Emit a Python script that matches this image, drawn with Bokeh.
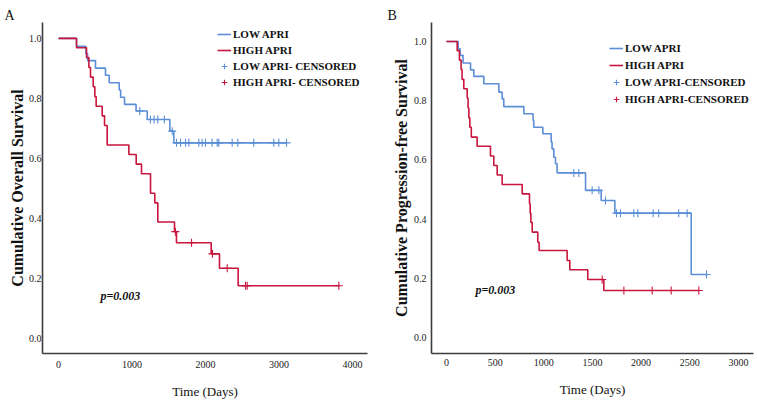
import numpy as np
from bokeh.plotting import figure
from bokeh.layouts import row
from bokeh.models import (Legend, LegendItem, Label, FixedTicker,
                          PrintfTickFormatter, Range1d)
from bokeh.embed import file_html
from bokeh.resources import INLINE

BLUE = "#5b8ed6"
RED = "#c8163c"
FONT = "Liberation Serif"

# ---------------- Panel A: overall survival ----------------
low_A_t = [245, 372, 395, 503, 639, 690, 826, 845, 898, 1055, 1207, 1515, 1569]
low_A_s = [0.974, 0.950, 0.926, 0.901, 0.877, 0.852, 0.828, 0.804, 0.780, 0.758, 0.730, 0.691, 0.652]
low_A_c = [1106, 1250, 1300, 1350, 1440, 1547, 1605, 1660, 1728, 1773, 1909, 1954, 1999,
           2090, 2159, 2180, 2363, 2439, 2657, 2929, 2997, 3102]

high_A_t = [245, 381, 413, 435, 472, 494, 512, 594, 626, 662, 957, 1057, 1129, 1252, 1310,
            1351, 1578, 1605, 2077, 2190, 2444]
high_A_s = [0.969, 0.936, 0.903, 0.871, 0.839, 0.806, 0.774, 0.742, 0.710, 0.645, 0.613, 0.581,
            0.549, 0.484, 0.452, 0.388, 0.356, 0.319, 0.282, 0.234, 0.176]
high_A_c = [1590, 1810, 2095, 2295, 2544, 2567, 3814]

# ---------------- Panel B: progression-free survival ----------------
low_B_t = [120, 140, 170, 247, 281, 384, 538, 572, 589, 795, 890, 897, 990, 1076, 1085, 1103,
           1120, 1137, 1429, 1590, 1730, 2515]
low_B_s = [0.975, 0.953, 0.927, 0.904, 0.882, 0.857, 0.829, 0.806, 0.780, 0.756, 0.733, 0.710,
           0.688, 0.660, 0.637, 0.609, 0.587, 0.556, 0.497, 0.463, 0.420, 0.213]
low_B_c = [1308, 1360, 1497, 1566, 1634, 1747, 1788, 1925, 1966, 2124, 2181, 2387, 2473, 2672]

high_B_t = [110, 133, 150, 160, 178, 213, 222, 230, 240, 255, 315, 452, 486, 521, 572, 778,
            853, 860, 867, 881, 938, 952, 1240, 1267, 1452, 1617]
high_B_s = [0.969, 0.937, 0.905, 0.872, 0.840, 0.808, 0.775, 0.742, 0.710, 0.677, 0.646, 0.613,
            0.581, 0.549, 0.517, 0.485, 0.452, 0.420, 0.389, 0.356, 0.322, 0.294, 0.260, 0.229,
            0.196, 0.159]
high_B_c = [1600, 1823, 2114, 2309, 2593]

xticks_A = [0, 1000, 2000, 3000, 4000]
xticks_B = [0, 500, 1000, 1500, 2000, 2500, 3000]
yticks = [0.0, 0.2, 0.4, 0.6, 0.8, 1.0]


def km_xy(times, surv, cens):
    last = max(max(times), max(cens))
    x = [0] + list(times) + [last]
    y = [1.0] + list(surv) + [surv[-1]]
    return x, y


def surv_at(times, surv, t):
    idx = np.searchsorted(np.asarray(times), np.asarray(t), side="right") - 1
    s = np.asarray(surv)
    return np.where(idx >= 0, s[np.clip(idx, 0, None)], 1.0)


def make_panel(width, xr, yr, xticks, borders, ylabel, groups, legend_loc, spacing,
               letter, letter_offset, ptext_xy, xstand, ystand, ylab_stand):
    p = figure(width=width, height=408, x_range=Range1d(*xr), y_range=Range1d(*yr),
               output_backend="svg", toolbar_location=None,
               min_border_left=borders[0], min_border_right=borders[1],
               min_border_top=borders[2], min_border_bottom=borders[3])
    p.grid.visible = False
    p.outline_line_color = None
    p.background_fill_color = "white"

    p.title.text = letter
    p.title.align = "left"
    p.title.offset = letter_offset
    p.title.standoff = 0
    p.title.text_font = FONT
    p.title.text_font_size = "14px"
    p.title.text_font_style = "normal"
    p.title.text_color = "#111111"

    p.xaxis.ticker = FixedTicker(ticks=xticks)
    p.yaxis.ticker = FixedTicker(ticks=yticks)
    p.yaxis.formatter = PrintfTickFormatter(format="%.1f")
    for ax in (p.xaxis, p.yaxis):
        ax.axis_line_color = "#3c3c3c"
        ax.axis_line_width = 1.6
        ax.major_tick_line_color = None
        ax.minor_tick_line_color = None
        ax.major_tick_out = 0
        ax.major_tick_in = 0
        ax.major_label_text_font = FONT
        ax.major_label_text_font_size = "10px"
        ax.major_label_text_color = "#222222"
        ax.axis_label_text_font = FONT
        ax.axis_label_text_color = "#111111"
    p.xaxis.axis_label = "Time (Days)"
    p.xaxis.axis_label_text_font_size = "13px"
    p.xaxis.axis_label_text_font_style = "normal"
    p.xaxis.axis_label_standoff = 13
    p.xaxis.major_label_standoff = xstand
    p.yaxis.axis_label = ylabel
    p.yaxis.axis_label_text_font_size = "16px"
    p.yaxis.axis_label_text_font_style = "bold"
    p.yaxis.axis_label_standoff = ylab_stand
    p.yaxis.major_label_standoff = ystand

    items_lines = []
    items_cens = []
    for name, cname, t, s, c, col in groups:
        x, y = km_xy(t, s, c)
        r = p.step(x, y, mode="after", line_color=col, line_width=1.6)
        items_lines.append(LegendItem(label=name, renderers=[r]))
    for name, cname, t, s, c, col in groups:
        cy = surv_at(t, s, c)
        rc = p.scatter(c, cy, marker="cross", size=8, line_color=col, line_width=1.1)
        items_cens.append(LegendItem(label=cname, renderers=[rc]))

    legend = Legend(items=items_lines + items_cens, location=legend_loc,
                    label_text_font=FONT, label_text_font_style="bold",
                    label_text_font_size="11px", label_text_color="#111111",
                    label_height=14, glyph_height=14, glyph_width=14, spacing=spacing,
                    padding=0, margin=0, label_standoff=2,
                    border_line_color=None, background_fill_alpha=0)
    p.add_layout(legend)

    p.add_layout(Label(x=ptext_xy[0], y=ptext_xy[1], text="p=0.003", text_font=FONT,
                       text_font_size="12px", text_font_style="bold italic",
                       text_color="#111111", text_baseline="middle", text_align="left"))
    return p


pA = make_panel(380, (-218, 4204), (-0.05, 1.053), xticks_A, (42, 13, 22, 55),
                "Cumulative Overall Survival",
                [("LOW APRI", "LOW APRI- CENSORED", low_A_t, low_A_s, low_A_c, BLUE),
                 ("HIGH APRI", "HIGH APRI- CENSORED", high_A_t, high_A_s, high_A_c, RED)],
                (175, 264), 2, "A", -38, (571, 0.143), 7, 1, 0)

pB = make_panel(376, (-154, 3155), (-0.054, 1.064), xticks_B, (51, 3, 22, 55),
                "Cumulative Progression-free Survival",
                [("LOW APRI", "LOW APRI-CENSORED", low_B_t, low_B_s, low_B_c, BLUE),
                 ("HIGH APRI", "HIGH APRI-CENSORED", high_B_t, high_B_s, high_B_c, RED)],
                (178, 247), 3, "B", -44, (298, 0.162), 5, 5, 1)

layout = row(pA, pB)
open("out.html", "w").write(file_html(layout, INLINE))
